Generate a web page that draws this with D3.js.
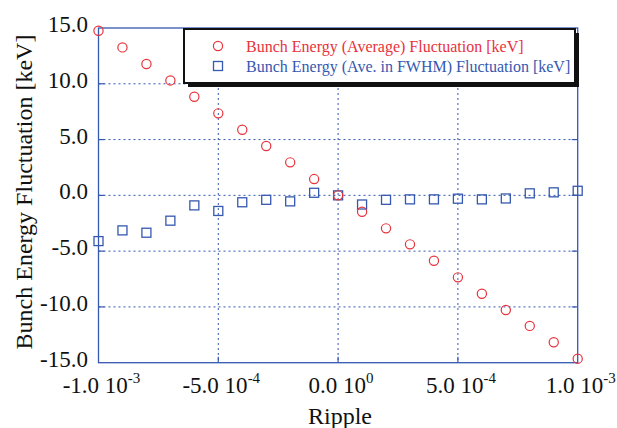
<!DOCTYPE html>
<html>
<head>
<meta charset="utf-8">
<script src="https://cdn.jsdelivr.net/npm/d3@7.9.0/dist/d3.min.js"></script>
<style>
  body { margin: 0; background: #fff; }
  svg { display: block; font-family: "Liberation Serif", "Times New Roman", serif; }
</style>
</head>
<body>
<svg width="617" height="428"></svg>
<script>
// ripple values (x)
const ripple = [-1.0e-3, -0.9e-3, -0.8e-3, -0.7e-3, -0.6e-3, -0.5e-3, -0.4e-3, -0.3e-3, -0.2e-3, -0.1e-3,
  0, 0.1e-3, 0.2e-3, 0.3e-3, 0.4e-3, 0.5e-3, 0.6e-3, 0.7e-3, 0.8e-3, 0.9e-3, 1.0e-3];
// bunch energy (average) fluctuation [keV]
const avgFluct = [14.75, 13.26, 11.77, 10.30, 8.84, 7.35, 5.88, 4.42, 2.96, 1.46,
  0.0, -1.47, -2.96, -4.39, -5.86, -7.35, -8.82, -10.28, -11.70, -13.17, -14.64];
// bunch energy (ave. in FWHM) fluctuation [keV]
const fwhmFluct = [-4.10, -3.14, -3.35, -2.27, -0.90, -1.40, -0.62, -0.40, -0.54, 0.23,
  0.0, -0.82, -0.40, -0.36, -0.36, -0.30, -0.36, -0.28, 0.18, 0.27, 0.41];

const xTicks = [-1e-3, -5e-4, 0, 5e-4, 1e-3];
const xTickMant = ["-1.0", "-5.0", "0.0", "5.0", "1.0"];
const xTickExp = ["-3", "-4", "0", "-4", "-3"];
const yTicks = [-15, -10, -5, 0, 5, 10, 15];

const seriesNames = ["Bunch Energy (Average) Fluctuation [keV]", "Bunch Energy (Ave. in FWHM) Fluctuation [keV]"];

const red = "#e8323c", blue = "#3558b0";

const svg = d3.select("svg");
const x = d3.scaleLinear().domain([-1e-3, 1e-3]).range([98.5, 577.7]);
const y = d3.scaleLinear().domain([-15, 15]).range([362.7, 28]);

// grid lines
svg.append("g").selectAll("line").data(xTicks.slice(1, -1)).join("line")
  .attr("x1", d => x(d)).attr("x2", d => x(d))
  .attr("y1", y(15)).attr("y2", y(-15))
  .attr("stroke", blue).attr("stroke-width", 1).attr("stroke-dasharray", "2,3");
svg.append("g").selectAll("line").data(yTicks.slice(1, -1)).join("line")
  .attr("x1", x(-1e-3)).attr("x2", x(1e-3))
  .attr("y1", d => y(d)).attr("y2", d => y(d))
  .attr("stroke", blue).attr("stroke-width", 1).attr("stroke-dasharray", "2,3");

// short tick marks pointing inward
const tk = svg.append("g").attr("stroke", blue).attr("stroke-width", 1.2);
yTicks.slice(1, -1).forEach(d => {
  tk.append("line").attr("x1", x(-1e-3)).attr("x2", x(-1e-3) + 6).attr("y1", y(d)).attr("y2", y(d));
  tk.append("line").attr("x1", x(1e-3)).attr("x2", x(1e-3) - 6).attr("y1", y(d)).attr("y2", y(d));
});
xTicks.slice(1, -1).forEach(d => {
  tk.append("line").attr("x1", x(d)).attr("x2", x(d)).attr("y1", y(-15)).attr("y2", y(-15) - 6);
  tk.append("line").attr("x1", x(d)).attr("x2", x(d)).attr("y1", y(15)).attr("y2", y(15) + 6);
});

// frame
svg.append("rect").attr("x", x(-1e-3)).attr("y", y(15))
  .attr("width", x(1e-3) - x(-1e-3)).attr("height", y(-15) - y(15))
  .attr("fill", "none").attr("stroke", blue).attr("stroke-width", 1.3);

// y axis tick labels
svg.append("g").selectAll("text").data(yTicks).join("text")
  .attr("x", 88).attr("y", d => y(d) + 4)
  .attr("text-anchor", "end").attr("font-size", 23).attr("fill", "#111")
  .text(d => d.toFixed(1));

// x axis tick labels with exponent
const xl = svg.append("g").selectAll("text").data(xTicks).join("text")
  .attr("x", d => x(d) + 3).attr("y", 393)
  .attr("text-anchor", "middle").attr("font-size", 23).attr("fill", "#111");
xl.append("tspan").text((d, i) => xTickMant[i] + " 10");
xl.append("tspan").attr("dy", -10).attr("font-size", 15).text((d, i) => xTickExp[i]);

// axis titles
svg.append("text").attr("x", 340).attr("y", 424).attr("text-anchor", "middle")
  .attr("font-size", 24).attr("fill", "#111").text("Ripple");
svg.append("text").attr("transform", "translate(32,192) rotate(-90)").attr("text-anchor", "middle")
  .attr("font-size", 24).attr("fill", "#111").text("Bunch Energy Fluctuation [keV]");

// markers
svg.append("g").selectAll("rect").data(fwhmFluct).join("rect")
  .attr("x", (d, i) => x(ripple[i]) - 4.5).attr("y", d => y(d) - 4.5)
  .attr("width", 9).attr("height", 9)
  .attr("fill", "none").attr("stroke", blue).attr("stroke-width", 1.3);
svg.append("g").selectAll("circle").data(avgFluct).join("circle")
  .attr("cx", (d, i) => x(ripple[i])).attr("cy", d => y(d)).attr("r", 4.6)
  .attr("fill", "none").attr("stroke", red).attr("stroke-width", 1.2);

// legend
const lg = svg.append("g");
lg.append("rect").attr("x", 188).attr("y", 33).attr("width", 391).attr("height", 54).attr("fill", "#111");
lg.append("rect").attr("x", 184).attr("y", 29).attr("width", 391).attr("height", 54)
  .attr("fill", "#fff").attr("stroke", "#111").attr("stroke-width", 2);
lg.append("circle").attr("cx", 218).attr("cy", 46).attr("r", 4.6)
  .attr("fill", "none").attr("stroke", red).attr("stroke-width", 1.2);
lg.append("rect").attr("x", 213.5).attr("y", 61.5).attr("width", 9).attr("height", 9)
  .attr("fill", "none").attr("stroke", blue).attr("stroke-width", 1.3);
lg.append("text").attr("x", 246).attr("y", 51.5).attr("font-size", 16).attr("fill", red).text(seriesNames[0]);
lg.append("text").attr("x", 246).attr("y", 71.5).attr("font-size", 16).attr("fill", blue).text(seriesNames[1]);
</script>
</body>
</html>
